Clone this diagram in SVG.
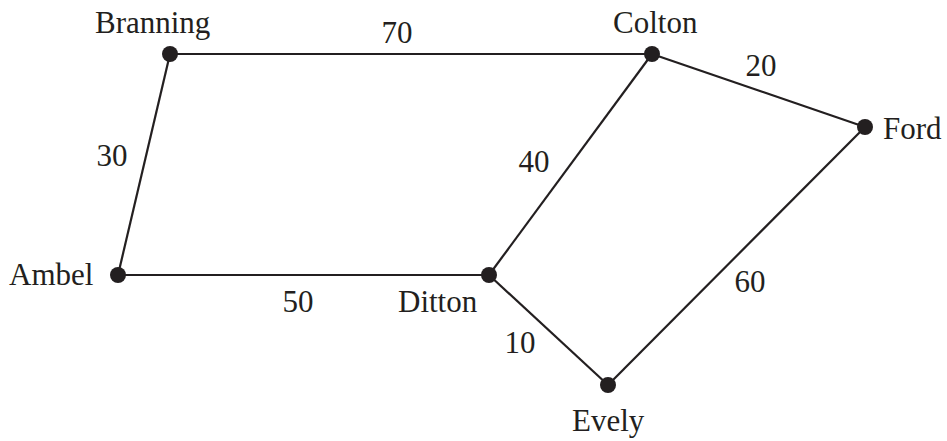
<svg xmlns="http://www.w3.org/2000/svg" width="947" height="441" viewBox="0 0 947 441">
<style>
.edge{stroke:#231f20;stroke-width:2.2;fill:none}
.dot{fill:#231f20}
text{font-family:"Liberation Serif","Times New Roman",serif;font-size:31px;fill:#231f20}
.w{text-anchor:middle}
</style>
<rect width="947" height="441" fill="#fff"/>
<g id="connectors">
<line class="edge" x1="170" y1="54" x2="652" y2="54"/>
<line class="edge" x1="170" y1="54" x2="118" y2="275"/>
<line class="edge" x1="118" y1="275" x2="489" y2="275"/>
<line class="edge" x1="652" y1="54" x2="865" y2="127"/>
<line class="edge" x1="652" y1="54" x2="489" y2="275"/>
<line class="edge" x1="489" y1="275" x2="608" y2="385"/>
<line class="edge" x1="865" y1="127" x2="608" y2="385"/>
<text class="w" x="397" y="43">70</text>
<text class="w" x="112" y="166">30</text>
<text class="w" x="298" y="312">50</text>
<text class="w" x="761" y="76">20</text>
<text class="w" x="534" y="172">40</text>
<text class="w" x="520" y="353">10</text>
<text class="w" x="750" y="292">60</text>
</g>
<g id="branning"><circle class="dot" cx="170" cy="54" r="8"/><text x="95" y="33">Branning</text></g>
<g id="colton"><circle class="dot" cx="652" cy="54" r="8"/><text x="613" y="33">Colton</text></g>
<g id="ford"><circle class="dot" cx="865" cy="127" r="8"/><text x="883" y="139">Ford</text></g>
<g id="ambel"><circle class="dot" cx="118" cy="275" r="8"/><text x="9" y="285">Ambel</text></g>
<g id="ditton"><circle class="dot" cx="489" cy="275" r="8"/><text x="398" y="312">Ditton</text></g>
<g id="evely"><circle class="dot" cx="608" cy="385" r="8"/><text x="572" y="431">Evely</text></g>
</svg>
